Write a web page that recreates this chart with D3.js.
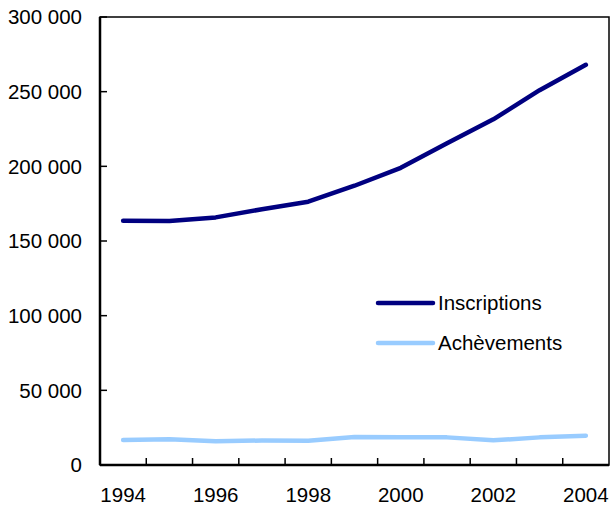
<!DOCTYPE html>
<html>
<head>
<meta charset="utf-8">
<script src="https://cdn.jsdelivr.net/npm/d3@7"></script>
<style>
  body { margin: 0; background: #fff; }
  text { font-family: "Liberation Sans", Arial, sans-serif; fill: #000; }
</style>
</head>
<body>
<div id="chart"></div>
<script>
const years = [1994, 1995, 1996, 1997, 1998, 1999, 2000, 2001, 2002, 2003, 2004];
const inscriptions = [163600, 163400, 165800, 171300, 176300, 187000, 199000, 215500, 231500, 251000, 268000];
const achevements = [16700, 17300, 15900, 16400, 16300, 18700, 18500, 18500, 16500, 18500, 19600];
const yTicks = [0, 50000, 100000, 150000, 200000, 250000, 300000];
const xLabels = [1994, 1996, 1998, 2000, 2002, 2004];

const width = 611, height = 507;
const plotLeft = 100, plotRight = 609, plotTop = 17, plotBottom = 465;
const fontSize = "20.5px";

const svg = d3.select("#chart").append("svg")
    .attr("width", width)
    .attr("height", height);

const x = d3.scaleBand().domain(years).range([plotLeft, plotRight]);
const y = d3.scaleLinear().domain([0, 300000]).range([plotBottom, plotTop]);

const fmt = v => d3.format(",")(v).replace(/,/g, " ");

// frame
svg.append("rect")
    .attr("x", plotLeft).attr("y", plotTop)
    .attr("width", plotRight - plotLeft).attr("height", plotBottom - plotTop)
    .attr("fill", "none").attr("stroke", "#000").attr("stroke-width", 1.5);

// y ticks (inside) and labels
svg.append("g").selectAll("line")
    .data(yTicks)
    .enter().append("line")
    .attr("x1", plotLeft).attr("x2", plotLeft + 7)
    .attr("y1", d => y(d)).attr("y2", d => y(d))
    .attr("stroke", "#000").attr("stroke-width", 1.5);

svg.append("g").selectAll("text")
    .data(yTicks)
    .enter().append("text")
    .attr("x", plotLeft - 18)
    .attr("y", d => y(d))
    .attr("dy", "0.35em")
    .attr("text-anchor", "end")
    .style("font-size", fontSize)
    .text(fmt);

// x ticks between categories
svg.append("g").selectAll("line")
    .data(years.slice(1))
    .enter().append("line")
    .attr("x1", d => x(d)).attr("x2", d => x(d))
    .attr("y1", plotBottom).attr("y2", plotBottom - 7)
    .attr("stroke", "#000").attr("stroke-width", 1.5);

svg.append("g").selectAll("text")
    .data(xLabels)
    .enter().append("text")
    .attr("x", d => x(d) + x.bandwidth() / 2)
    .attr("y", plotBottom + 37)
    .attr("text-anchor", "middle")
    .style("font-size", fontSize)
    .text(d => d);

// axis lines heavier
svg.append("line")
    .attr("x1", plotLeft).attr("x2", plotLeft).attr("y1", plotTop).attr("y2", plotBottom)
    .attr("stroke", "#000").attr("stroke-width", 2.5);
svg.append("line")
    .attr("x1", plotLeft).attr("x2", plotRight).attr("y1", plotBottom).attr("y2", plotBottom)
    .attr("stroke", "#000").attr("stroke-width", 2.5);

const series = [
    { name: "Inscriptions", values: inscriptions, color: "#000080" },
    { name: "Achèvements", values: achevements, color: "#99ccff" }
];

const line = d3.line()
    .x((d, i) => x(years[i]) + x.bandwidth() / 2)
    .y(d => y(d));

svg.append("g").selectAll("path")
    .data(series)
    .enter().append("path")
    .attr("d", d => line(d.values))
    .attr("fill", "none")
    .attr("stroke", d => d.color)
    .attr("stroke-width", 4.5)
    .attr("stroke-linecap", "round")
    .attr("stroke-linejoin", "round");

// legend
const legend = svg.append("g").selectAll("g")
    .data(series)
    .enter().append("g")
    .attr("transform", (d, i) => `translate(378,${303 + i * 40})`);

legend.append("line")
    .attr("x1", 0).attr("x2", 55)
    .attr("stroke", d => d.color)
    .attr("stroke-width", 4.5)
    .attr("stroke-linecap", "round");

legend.append("text")
    .attr("x", 60)
    .attr("dy", "0.35em")
    .style("font-size", fontSize)
    .text(d => d.name);
</script>
</body>
</html>
